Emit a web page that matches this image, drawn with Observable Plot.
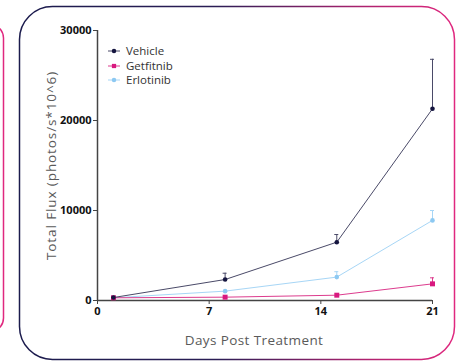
<!DOCTYPE html>
<html>
<head>
<meta charset="utf-8">
<script src="https://cdn.jsdelivr.net/npm/d3@7"></script>
<script src="https://cdn.jsdelivr.net/npm/@observablehq/plot@0.6"></script>
<style>
  html, body { margin: 0; padding: 0; background: #fff; }
  #wrap { position: relative; width: 461px; height: 362px; overflow: hidden; font-family: "Open Sans", sans-serif; }
  #wrap > * { position: absolute; left: 0; top: 0; }
  #legend { left: 108px; top: 44px; font-size: 11.5px; color: #333; line-height: 14.5px; }
  #legend .row { display: flex; align-items: center; height: 14.5px; }
  #legend svg { margin-right: 5px; }
</style>
</head>
<body>
<div id="wrap"></div>
<script>
// ---- data ----
const series = ["Vehicle", "Getfitnib", "Erlotinib"];
const days = [1, 8, 15, 21];
const vehicleMean = [330, 2330, 6480, 21300];
const vehicleErr = [0, 700, 850, 5500];
const getfitnibMean = [300, 370, 590, 1850];
const getfitnibErr = [0, 0, 0, 670];
const erlotinibMean = [300, 1040, 2600, 8900];
const erlotinibErr = [0, 0, 600, 1100];
const xTicks = [0, 7, 14, 21];
const yTicks = [0, 10000, 20000, 30000];

const colors = {Vehicle: "#15153f", Getfitnib: "#d8197f", Erlotinib: "#8dc9f2"};
const lineColors = {Vehicle: "#4a4a68", Getfitnib: "#dd3c8e", Erlotinib: "#a7d6f6"};
const symbols = {Vehicle: "circle", Getfitnib: "square", Erlotinib: "circle"};

const means = {Vehicle: vehicleMean, Getfitnib: getfitnibMean, Erlotinib: erlotinibMean};
const errs = {Vehicle: vehicleErr, Getfitnib: getfitnibErr, Erlotinib: erlotinibErr};
const drawOrder = ["Erlotinib", "Getfitnib", "Vehicle"];
const rows = drawOrder.flatMap(s => days.map((d, i) => ({series: s, day: d, mean: means[s][i], err: errs[s][i]})));

const W = 461, H = 362;
const wrap = document.getElementById("wrap");

// ---- decorative card frames ----
const bg = d3.create("svg").attr("width", W).attr("height", H);
const defs = bg.append("defs");
const grad = defs.append("linearGradient").attr("id", "g").attr("x1", "0%").attr("x2", "100%").attr("y1", "0%").attr("y2", "0%");
grad.append("stop").attr("offset", "0%").attr("stop-color", "#1b1b4d");
grad.append("stop").attr("offset", "45%").attr("stop-color", "#2a1d55");
grad.append("stop").attr("offset", "80%").attr("stop-color", "#b0226f");
grad.append("stop").attr("offset", "100%").attr("stop-color", "#e0287f");
bg.append("rect").attr("x", 19.5).attr("y", 6.5).attr("width", 435).attr("height", 353)
  .attr("rx", 33).attr("ry", 33).attr("fill", "none").attr("stroke", "url(#g)").attr("stroke-width", 1.5);
bg.append("rect").attr("x", -200).attr("y", 24).attr("width", 203.5).attr("height", 308)
  .attr("rx", 14).attr("ry", 14).attr("fill", "none").attr("stroke", "#e0287f").attr("stroke-width", 1.5);
wrap.appendChild(bg.node());

// ---- chart ----
const chart = Plot.plot({
  width: W,
  height: H,
  marginLeft: 97,
  marginRight: 29,
  marginTop: 30,
  marginBottom: 62,
  style: {background: "transparent", fontFamily: "Open Sans, sans-serif"},
  x: {domain: [0, 21]},
  y: {domain: [0, 30000]},
  marks: [
    Plot.axisY({ticks: yTicks, tickFormat: d3.format("d"), tickSize: 4, tickPadding: 2, fontSize: 11, fontWeight: "bold", color: "#111", stroke: "#444",
      label: "Total Flux (photos/s*10^6)", labelAnchor: "center", labelOffset: 51, labelArrow: "none"}),
    Plot.axisX({ticks: xTicks, tickFormat: d3.format("d"), tickSize: 4, tickPadding: 3, fontSize: 11, fontWeight: "bold", color: "#111", stroke: "#444",
      label: null}),
    Plot.ruleX([0], {stroke: "#444", strokeWidth: 1.5}),
    Plot.ruleY([0], {stroke: "#444", strokeWidth: 1.5}),
    Plot.ruleX(rows.filter(d => d.err > 0), {x: "day", y1: "mean", y2: d => d.mean + d.err, stroke: d => lineColors[d.series], strokeWidth: 1}),
    Plot.ruleY(rows.filter(d => d.err > 0), {y: d => d.mean + d.err, x1: "day", x2: "day", insetLeft: -2, insetRight: -2, stroke: d => lineColors[d.series], strokeWidth: 1}),
    ...drawOrder.map(s => Plot.line(rows.filter(d => d.series === s), {x: "day", y: "mean", stroke: lineColors[s], strokeWidth: 1})),
    ...drawOrder.map(s => Plot.dot(rows.filter(d => d.series === s), {x: "day", y: "mean", fill: colors[s], symbol: symbols[s], r: s === "Getfitnib" ? 2.8 : 2.3})),
    Plot.text(["Days Post Treatment"], {frameAnchor: "bottom", dy: 44, dx: -11, fontSize: 13.5, fill: "#5a5a5a", text: d => d})
  ]
});
wrap.appendChild(chart);
// x label letter spacing
chart.querySelectorAll("text").forEach(e => {
  if (e.textContent === "Days Post Treatment") e.style.letterSpacing = "0.4px";
});
// lighter, wider y label
chart.querySelectorAll("g[aria-label='y-axis label']").forEach(g => {
  g.setAttribute("fill", "#5a5a5a");
  g.setAttribute("font-weight", "normal");
  g.querySelectorAll("text").forEach(e => {
    e.setAttribute("fill", "#5a5a5a");
    e.style.fontWeight = "normal";
    e.style.fontSize = "13.5px";
    e.style.letterSpacing = "0.9px";
  });
});

// ---- legend ----
const legend = document.createElement("div");
legend.id = "legend";
for (const s of series) {
  const row = document.createElement("div");
  row.className = "row";
  const sw = d3.create("svg").attr("width", 13).attr("height", 8);
  sw.append("line").attr("x1", 0).attr("x2", 12).attr("y1", 4).attr("y2", 4).attr("stroke", lineColors[s]).attr("stroke-width", 1);
  sw.append("path").attr("transform", "translate(6,4)").attr("d", d3.symbol(symbols[s] === "square" ? d3.symbolSquare : d3.symbolCircle, symbols[s] === "square" ? 18 : 16)()).attr("fill", colors[s]);
  row.appendChild(sw.node());
  const t = document.createElement("span");
  t.textContent = s;
  row.appendChild(t);
  legend.appendChild(row);
}
wrap.appendChild(legend);
</script>
</body>
</html>
